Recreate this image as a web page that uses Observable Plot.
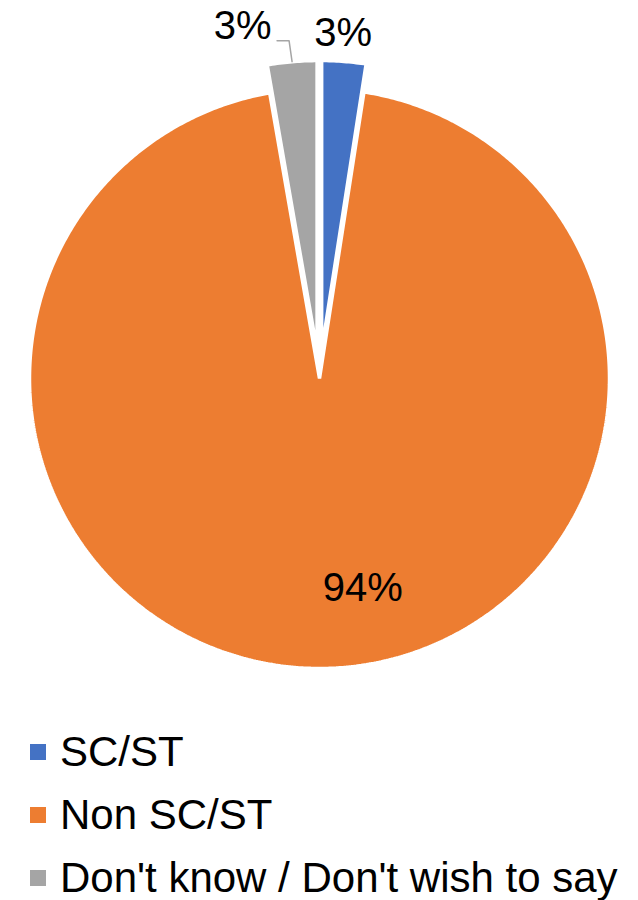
<!DOCTYPE html>
<html><head><meta charset="utf-8">
<script src="https://cdn.jsdelivr.net/npm/d3@7"></script>
<script src="https://cdn.jsdelivr.net/npm/@observablehq/plot@0.6"></script>
<style>
body{margin:0;background:#fff;font-family:"Liberation Sans",Arial,sans-serif;}
#legend{padding-top:20px;}
.row{display:flex;align-items:center;height:63px;}
.sw{width:16px;height:16px;margin-left:30px;margin-right:14px;}
.lt{font-size:42px;color:#000;line-height:1;}
</style>
</head><body>
<div id="chart"></div>
<div id="legend"></div>
<script>
// ---- data ----
const categories = ["SC/ST", "Non SC/ST", "Don't know / Don't wish to say"];
const values = [2.45, 94.8, 2.75];
const labels = ["3%", "94%", "3%"];
const colors = ["#4472C4", "#ED7D31", "#A5A5A5"];

// ---- layout ----
const W = 638, H = 700, cx = 319, cy = 378, rPx = 290;
const explode = [28 / rPx, 0, 28 / rPx];
// label placement: [angle (deg, clockwise from top, from pie center), radius factor]
const labelPlace = [[3.9, 1.194], [168.3, 0.738], [-12.3, 1.244]];

const total = d3.sum(values);
let acc = 0;
const slices = categories.map((c, i) => {
  const a0 = acc / total * 2 * Math.PI;
  acc += values[i];
  const a1 = acc / total * 2 * Math.PI;
  const mid = (a0 + a1) / 2;
  const ox = explode[i] * Math.sin(mid), oy = explode[i] * Math.cos(mid);
  return {cat: c, a0, a1, mid, ox, oy, i};
});

const poly = [];
for (const s of slices) {
  poly.push({cat: s.cat, x: s.ox, y: s.oy});
  const n = Math.max(8, Math.ceil((s.a1 - s.a0) / (Math.PI / 360)));
  for (let k = 0; k <= n; k++) {
    const a = s.a0 + (s.a1 - s.a0) * k / n;
    poly.push({cat: s.cat, x: s.ox + Math.sin(a), y: s.oy + Math.cos(a)});
  }
}

const labelData = slices.map(s => {
  const [deg, r] = labelPlace[s.i];
  const a = deg * Math.PI / 180;
  return {text: labels[s.i], x: r * Math.sin(a), y: r * Math.cos(a)};
});

// leader line for the gray slice
const g = slices[2];
const ex = g.ox + Math.sin(g.mid), ey = g.oy + Math.cos(g.mid);
const leader = [
  {x: ex, y: ey},
  {x: ex - 3 / rPx, y: ey + 21 / rPx},
  {x: ex - 15 / rPx, y: ey + 21 / rPx}
];

const chart = Plot.plot({
  width: W, height: H,
  margin: 0,
  x: {domain: [-cx / rPx, (W - cx) / rPx], axis: null},
  y: {domain: [-(H - cy) / rPx, cy / rPx], axis: null},
  color: {domain: categories, range: colors},
  style: {fontFamily: '"Liberation Sans", Arial, sans-serif', background: "white"},
  marks: [
    Plot.line(poly, {x: "x", y: "y", z: "cat", fill: "cat", stroke: "white", strokeWidth: 3.5, strokeLinejoin: "miter", curve: "linear-closed"}),
    Plot.line(leader, {x: "x", y: "y", stroke: "#A5A5A5", strokeWidth: 1.5}),
    Plot.text(labelData, {x: "x", y: "y", text: "text", fontSize: 40, fill: "black", textAnchor: "middle", lineAnchor: "middle"})
  ]
});
document.getElementById("chart").appendChild(chart);

const leg = document.getElementById("legend");
categories.forEach((c, i) => {
  const row = document.createElement("div");
  row.className = "row";
  row.innerHTML = `<div class="sw" style="background:${colors[i]}"></div><div class="lt"></div>`;
  row.querySelector(".lt").textContent = c;
  leg.appendChild(row);
});
</script>
</body></html>
